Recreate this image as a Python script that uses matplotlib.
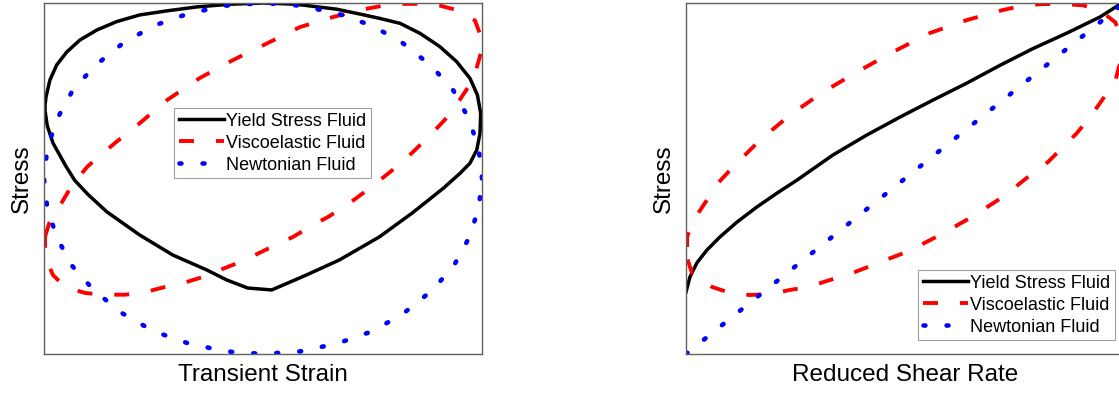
import matplotlib
matplotlib.use("Agg")
import matplotlib.pyplot as plt

plt.rcParams['font.family'] = ['Liberation Sans', 'DejaVu Sans']
plt.rcParams['lines.scale_dashes'] = False

LABELS = ["Yield Stress Fluid", "Viscoelastic Fluid", "Newtonian Fluid"]

# --- elastic projection: transient strain vs stress (both normalised) ---
strain_yield = [-0.997, -0.991, -0.973, -0.942, -0.896, -0.836, -0.759, -0.668, -0.563, -0.44,
                -0.30, -0.15, 0.0, 0.15, 0.335, 0.45, 0.534, 0.626, 0.717, 0.808,
                0.884, 0.945, 0.979, 0.994, 0.991, 0.976, 0.945, 0.9, 0.823, 0.681,
                0.531, 0.349, 0.198, 0.04, -0.07, -0.166, -0.257, -0.412, -0.563, -0.713,
                -0.80, -0.86, -0.90, -0.959, -0.985, -0.997]
stress_yield_e = [0.40, 0.464, 0.561, 0.647, 0.721, 0.789, 0.846, 0.894, 0.932, 0.955,
                  0.978, 0.993, 1.0, 0.993, 0.965, 0.935, 0.912, 0.884, 0.827, 0.751,
                  0.666, 0.571, 0.476, 0.371, 0.258, 0.162, 0.087, 0.03, -0.056, -0.197,
                  -0.333, -0.464, -0.55, -0.635, -0.624, -0.578, -0.521, -0.436, -0.322, -0.19,
                  -0.09, -0.01, 0.07, 0.202, 0.30, 0.40]

strain_visco = [-0.995, -0.975, -0.93, -0.868, -0.80, -0.73, -0.676, -0.562, -0.438, -0.288,
                -0.137, 0.032, 0.169, 0.32, 0.443, 0.548, 0.626, 0.726, 0.808, 0.9,
                0.968, 0.995, 1.0, 0.986, 0.959, 0.913, 0.863, 0.808, 0.74, 0.68,
                0.603, 0.534, 0.457, 0.384, 0.297, 0.228, 0.137, 0.064, -0.027, -0.105,
                -0.196, -0.274, -0.379, -0.447, -0.553, -0.63, -0.735, -0.813, -0.904, -0.959,
                -0.99, -0.995, -0.995]
stress_visco_e = [-0.33, -0.25, -0.16, -0.03, 0.07, 0.145, 0.202, 0.316, 0.447, 0.573,
                  0.675, 0.778, 0.863, 0.92, 0.96, 0.985, 0.995, 0.995, 0.985, 0.955,
                  0.90, 0.81, 0.74, 0.675, 0.561, 0.476, 0.379, 0.305, 0.219, 0.145,
                  0.06, -0.009, -0.083, -0.151, -0.219, -0.265, -0.333, -0.375, -0.43, -0.476,
                  -0.521, -0.561, -0.601, -0.618, -0.652, -0.662, -0.662, -0.652, -0.618, -0.55,
                  -0.46, -0.40, -0.33]

strain_newton = [1.0, 0.985, 0.94, 0.87, 0.77, 0.64, 0.5, 0.34, 0.17, 0.0,
                 -0.17, -0.34, -0.5, -0.64, -0.77, -0.87, -0.94, -0.985, -1.0, -0.985,
                 -0.94, -0.87, -0.77, -0.64, -0.5, -0.34, -0.17, 0.0, 0.17, 0.34,
                 0.5, 0.64, 0.77, 0.87, 0.94, 0.985, 1.0]
stress_newton_e = [0.0, 0.17, 0.34, 0.5, 0.64, 0.77, 0.87, 0.94, 0.985, 1.0,
                   0.985, 0.94, 0.87, 0.77, 0.64, 0.5, 0.34, 0.17, 0.0, -0.17,
                   -0.34, -0.5, -0.64, -0.77, -0.87, -0.94, -0.985, -1.0, -0.985, -0.94,
                   -0.87, -0.77, -0.64, -0.5, -0.34, -0.17, 0.0]

# --- viscous projection: reduced shear rate vs stress ---
rate_yield = [-1.0, -0.982, -0.95, -0.904, -0.845, -0.767, -0.676, -0.584, -0.493, -0.329,
              -0.174, -0.023, 0.128, 0.283, 0.434, 0.584, 0.74, 0.89, 0.977, 1.0]
stress_yield_v = [-0.647, -0.561, -0.48, -0.407, -0.333, -0.248, -0.162, -0.083, -0.009, 0.134,
                  0.248, 0.35, 0.447, 0.544, 0.645, 0.74, 0.829, 0.92, 0.989, 1.0]

rate_visco = [-0.995, -0.995, -0.977, -0.959, -0.904, -0.854, -0.785, -0.662, -0.525, -0.374,
              -0.219, -0.055, 0.114, 0.283, 0.447, 0.539, 0.63, 0.721, 0.813, 0.9,
              0.96, 0.985, 1.0, 0.99, 0.977, 0.959, 0.9, 0.845, 0.785, 0.721,
              0.653, 0.584, 0.447, 0.297, 0.16, 0.009, -0.114, -0.169, -0.265, -0.342,
              -0.443, -0.525, -0.616, -0.708, -0.799, -0.881, -0.973, -0.995, -0.995]
stress_visco_v = [-0.39, -0.333, -0.27, -0.225, -0.122, -0.026, 0.066, 0.219, 0.362, 0.493,
                  0.607, 0.721, 0.829, 0.903, 0.96, 0.985, 0.994, 0.994, 0.987, 0.949,
                  0.89, 0.82, 0.74, 0.68, 0.635, 0.55, 0.447, 0.35, 0.259, 0.179,
                  0.094, 0.031, -0.105, -0.225, -0.322, -0.418, -0.476, -0.504, -0.55, -0.578,
                  -0.618, -0.635, -0.658, -0.664, -0.652, -0.618, -0.538, -0.453, -0.39]

rate_newton = [-1.0, 1.0]
stress_newton_v = [-1.0, 1.0]

# dash lengths are in points (scale_dashes is off)
STYLES = [
    dict(color='black', lw=2.5, linestyle='-'),
    dict(color='red', lw=2.8, dashes=(10.8, 15.8)),
    dict(color='blue', lw=3.3, dashes=(1.4, 15.2), dash_capstyle='round'),
]


def draw_panel(ax, curves, xlabel, anchor):
    for (x, y), label, style in zip(curves, LABELS, STYLES):
        ax.plot(x, y, label=label, **style)
    ax.set_xlim(-1, 1)
    ax.set_ylim(-1, 1)
    ax.set_xticks([])
    ax.set_yticks([])
    for sp in ax.spines.values():
        sp.set_color('#606060')
        sp.set_linewidth(1.0)
    ax.set_xlabel(xlabel, fontsize=17.5, labelpad=7)
    ax.set_ylabel('Stress', fontsize=17.5, labelpad=8)
    leg = ax.legend(loc='upper left', bbox_to_anchor=anchor, bbox_transform=fig.transFigure,
                    fontsize=13, handlelength=2.5, handletextpad=0.15, borderpad=0.25,
                    labelspacing=0.28, borderaxespad=0, fancybox=False, framealpha=1)
    leg.get_frame().set_edgecolor('#a0a0a0')
    leg.get_frame().set_linewidth(0.8)


W, H = 1119, 398
fig = plt.figure(figsize=(W / 100, H / 100), dpi=100)
ax1 = fig.add_axes([44 / W, 44 / H, 438 / W, 351 / H])
ax2 = fig.add_axes([686 / W, 44 / H, 438 / W, 351 / H])

draw_panel(ax1, [(strain_yield, stress_yield_e), (strain_visco, stress_visco_e),
                 (strain_newton, stress_newton_e)],
           'Transient Strain', (174 / W, 1 - 108 / H))
draw_panel(ax2, [(rate_yield, stress_yield_v), (rate_visco, stress_visco_v),
                 (rate_newton, stress_newton_v)],
           'Reduced Shear Rate', (918 / W, 1 - 270 / H))

fig.savefig('out.png', dpi=100)
